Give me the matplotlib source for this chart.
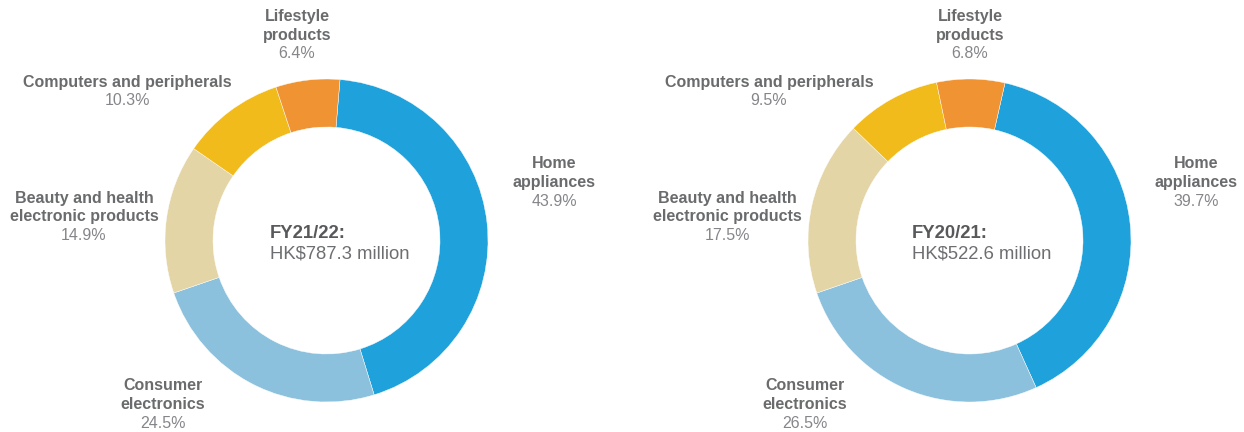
import matplotlib.pyplot as plt

plt.rcParams['font.family'] = ['Liberation Sans', 'DejaVu Sans']

categories = ['Home\nappliances', 'Consumer\nelectronics', 'Beauty and health\nelectronic products',
              'Computers and peripherals', 'Lifestyle\nproducts']
share_2122 = [43.9, 24.5, 14.9, 10.3, 6.4]
share_2021 = [39.7, 26.5, 17.5, 9.5, 6.8]
colors = ['#1fa2db', '#8cc1de', '#e4d5a6', '#f2bb1c', '#f09433']

W, H = 1244, 432
fig = plt.figure(figsize=(W / 100, H / 100), dpi=100)
ax = fig.add_axes([0, 0, 1, 1])

dark = '#6a6b6d'
light = '#85868a'
step = 18.5


def donut(values, cx, cy, start, label_pos, title, total, tx):
    ax.pie(values, colors=colors, startangle=start, counterclock=False,
           center=(cx, H - cy), radius=161.5,
           wedgeprops=dict(width=48, edgecolor='white', linewidth=0.3))
    for name, v, (lx, ly) in zip(categories, values, label_pos):
        lines = name.split('\n')
        for i, line in enumerate(lines):
            ax.text(lx, H - (ly + step * i), line, ha='center', va='center',
                    fontsize=11.5, fontweight='bold', color=dark)
        ax.text(lx, H - (ly + step * len(lines)), f'{v}%', ha='center',
                va='center', fontsize=11.5, color=light)
    ax.text(tx, H - 233, title, ha='left', va='center', fontsize=13.3,
            fontweight='bold', color='#58595b')
    ax.text(tx, H - 254, total, ha='left', va='center', fontsize=13.3,
            color='#6d6e71')


donut(share_2122, 326.5, 240.5, 85.2,
      [(554, 164), (163, 386), (84, 198), (127, 82), (297, 17)],
      'FY21/22:', 'HK$787.3 million', 270)
donut(share_2021, 969.5, 240.5, 77.3,
      [(1196, 164), (805, 386), (727, 198), (769, 82), (970, 17)],
      'FY20/21:', 'HK$522.6 million', 912)

ax.set_xlim(0, W)
ax.set_ylim(0, H)
ax.set_aspect('auto')
ax.axis('off')

fig.savefig('out.png', dpi=100)
